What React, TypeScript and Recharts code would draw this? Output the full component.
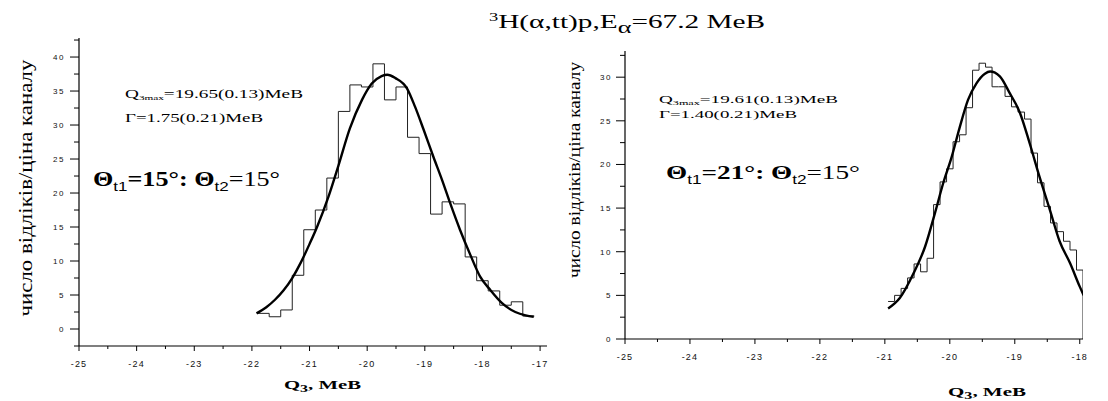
import React from 'react';
import { LineChart, Line, XAxis, YAxis } from 'recharts';

// ---------- Left panel (Θt1=15°, Θt2=15°) ----------
const leftBinStarts = [-21.9, -21.7, -21.5, -21.3, -21.1, -20.9, -20.7, -20.5, -20.3, -20.1, -19.9, -19.7, -19.5, -19.3, -19.1, -18.9, -18.7, -18.5, -18.3, -18.1, -17.9, -17.7, -17.5, -17.3];
const leftCounts = [2.3, 1.8, 2.8, 7.9, 14.6, 17.5, 22.2, 32.0, 35.9, 35.6, 39.0, 33.7, 35.6, 28.2, 25.8, 16.9, 18.7, 18.4, 10.6, 7.1, 5.6, 3.5, 4.0, 1.9];
const leftHistEnd = -17.1;
const leftFitQ = [-21.92, -21.75, -21.6, -21.45, -21.3, -21.15, -21.0, -20.87, -20.67, -20.5, -20.3, -20.09, -19.92, -19.75, -19.65, -19.51, -19.31, -19.17, -19.02, -18.85, -18.7, -18.56, -18.39, -18.21, -18.04, -17.86, -17.66, -17.43, -17.25, -17.11];
const leftFitY = [2.3, 3.2, 4.3, 5.7, 7.5, 9.8, 12.5, 15.0, 19.5, 24.0, 29.5, 33.7, 36.1, 37.2, 37.4, 36.9, 35.4, 32.7, 29.3, 25.3, 21.9, 18.5, 14.6, 10.9, 7.7, 5.7, 3.8, 2.5, 2.0, 1.8];
const leftXTicks = [-25, -24.5, -24, -23.5, -23, -22.5, -22, -21.5, -21, -20.5, -20, -19.5, -19, -18.5, -18, -17.5, -17];
const leftYTicks = [-2.5, 0, 2.5, 5, 7.5, 10, 12.5, 15, 17.5, 20, 22.5, 25, 27.5, 30, 32.5, 35, 37.5, 40, 42.5];

// ---------- Right panel (Θt1=21°, Θt2=15°) ----------
const rightBinStarts = [-20.95, -20.85, -20.75, -20.65, -20.55, -20.45, -20.35, -20.25, -20.15, -20.05, -19.95, -19.85, -19.75, -19.65, -19.55, -19.45, -19.35, -19.25, -19.15, -19.05, -18.95, -18.85, -18.75, -18.65, -18.55, -18.45, -18.35, -18.25, -18.15, -18.05];
const rightCounts = [4.3, 5.0, 5.8, 7.0, 8.6, 7.7, 9.25, 15.4, 18.0, 19.5, 22.6, 23.4, 26.5, 30.8, 31.6, 31.15, 28.9, 28.9, 27.8, 26.6, 26.0, 25.2, 21.3, 17.9, 15.2, 13.3, 12.3, 11.2, 10.2, 7.9];
const rightHistEnd = -17.95;
const rightFitQ = [-20.95, -20.77, -20.56, -20.38, -20.23, -20.1, -19.97, -19.85, -19.72, -19.59, -19.46, -19.38, -19.23, -19.08, -18.92, -18.77, -18.62, -18.46, -18.31, -18.15, -18.0, -17.94];
const rightFitY = [3.5, 4.7, 7.5, 10.6, 14.4, 17.9, 20.9, 24.2, 27.4, 29.3, 30.4, 30.65, 30.1, 28.2, 25.9, 22.4, 18.6, 14.8, 11.2, 8.7, 6.0, 5.0];
const rightXTicks = [-25, -24.5, -24, -23.5, -23, -22.5, -22, -21.5, -21, -20.5, -20, -19.5, -19, -18.5, -18];
const rightYTicks = [0, 2.5, 5, 7.5, 10, 12.5, 15, 17.5, 20, 22.5, 25, 27.5, 30, 32.5];

const leftHist = leftBinStarts
  .map((q, i) => ({ q, n: leftCounts[i] }))
  .concat([{ q: leftHistEnd, n: leftCounts[leftCounts.length - 1] }]);
const leftFit = leftFitQ.map((q, i) => ({ q, n: leftFitY[i] }));
const rightHist = rightBinStarts
  .map((q, i) => ({ q, n: rightCounts[i] }))
  .concat([{ q: rightHistEnd, n: 0 }]);
const rightFit = rightFitQ.map((q, i) => ({ q, n: rightFitY[i] }));

const tickFont = '"Liberation Sans", Arial, sans-serif';
const serif = '"Liberation Serif", "Times New Roman", serif';

const XTick = (props: any) => {
  const { x, y, payload, off } = props;
  const v = payload.value;
  const major = Math.abs(v - Math.round(v)) < 1e-6;
  return (
    <g>
      <line x1={x} x2={x} y1={y} y2={y + (major ? 5 : 3)} stroke="#000" strokeWidth={1} />
      {major && (
        <text x={x} y={y + off} textAnchor="middle" fontSize={9} fontFamily={tickFont} letterSpacing={1.2} fill="#111">
          {String(v)}
        </text>
      )}
    </g>
  );
};

const YTick = (props: any) => {
  const { x, y, payload, off } = props;
  const v = payload.value;
  const major = Math.abs(v / 5 - Math.round(v / 5)) < 1e-6;
  return (
    <g>
      <line x1={x - (major ? 9 : 5)} x2={x} y1={y} y2={y} stroke="#000" strokeWidth={1} />
      {major && (
        <text x={x - off} y={y + 3} textAnchor="end" fontSize={8} fontFamily={tickFont} letterSpacing={1.5} fill="#111">
          {String(v)}
        </text>
      )}
    </g>
  );
};

export default function App() {
  return (
    <div style={{ position: 'absolute', left: 0, top: 0, width: 1108, height: 401, background: '#fff', overflow: 'hidden' }}>
      <div style={{ position: 'absolute', left: 0, top: 0 }}>
        <LineChart width={560} height={401} margin={{ top: 38, right: 13, bottom: 0, left: 0 }}>
          <XAxis
            dataKey="q"
            type="number"
            domain={[-25, -16.88]}
            ticks={leftXTicks}
            interval={0}
            allowDataOverflow
            height={55}
            tickSize={0}
            tickMargin={0}
            tickLine={false}
            axisLine={{ stroke: '#000', strokeWidth: 1.2 }}
            tick={(p: any) => <XTick {...p} off={21} />}
          />
          <YAxis
            type="number"
            domain={[-2.5, 42.8]}
            ticks={leftYTicks}
            interval={0}
            allowDataOverflow
            width={79}
            tickSize={0}
            tickMargin={0}
            tickLine={false}
            axisLine={{ stroke: '#000', strokeWidth: 1.2 }}
            tick={(p: any) => <YTick {...p} off={14} />}
          />
          <Line data={leftHist} dataKey="n" type="stepAfter" stroke="#222" strokeWidth={1} dot={false} activeDot={false} isAnimationActive={false} />
          <Line data={leftFit} dataKey="n" type="monotone" stroke="#000" strokeWidth={2.4} dot={false} activeDot={false} isAnimationActive={false} />
        </LineChart>
      </div>
      <div style={{ position: 'absolute', left: 540, top: 0 }}>
        <LineChart width={568} height={401} margin={{ top: 51, right: 25, bottom: 0, left: 0 }}>
          <XAxis
            dataKey="q"
            type="number"
            domain={[-25, -17.95]}
            ticks={rightXTicks}
            interval={0}
            allowDataOverflow
            height={62}
            tickSize={0}
            tickMargin={0}
            tickLine={false}
            axisLine={{ stroke: '#000', strokeWidth: 1.2 }}
            tick={(p: any) => <XTick {...p} off={21} />}
          />
          <YAxis
            type="number"
            domain={[0, 33]}
            ticks={rightYTicks}
            interval={0}
            allowDataOverflow
            width={85}
            tickSize={0}
            tickMargin={0}
            tickLine={false}
            axisLine={{ stroke: '#000', strokeWidth: 1.2 }}
            tick={(p: any) => <YTick {...p} off={13} />}
          />
          <Line data={rightHist} dataKey="n" type="stepAfter" stroke="#222" strokeWidth={1} dot={false} activeDot={false} isAnimationActive={false} />
          <Line data={rightFit} dataKey="n" type="monotone" stroke="#000" strokeWidth={2.4} dot={false} activeDot={false} isAnimationActive={false} />
        </LineChart>
      </div>
      <svg width={1108} height={401} style={{ position: 'absolute', left: 0, top: 0, pointerEvents: 'none' }}>
        {/* Title */}
        <text x={489} y={28} fontSize={19} fontFamily={serif} fill="#000" textLength={276} lengthAdjust="spacingAndGlyphs">
          <tspan fontSize={12} dy={-7}>3</tspan>
          <tspan dy={7}>H(α,tt)p,E</tspan>
          <tspan fontSize={17} dy={5}>α</tspan>
          <tspan dy={-5}>=67.2 MeB</tspan>
        </text>

        {/* Left annotations */}
        <text x={125} y={98} fontSize={12} fontFamily={serif} fill="#000" textLength={178} lengthAdjust="spacingAndGlyphs">
          Q<tspan fontSize={7} dy={2}>3max</tspan>
          <tspan dy={-2}>=19.65(0.13)MeB</tspan>
        </text>
        <text x={125} y={122} fontSize={12} fontFamily={serif} fill="#000" textLength={138} lengthAdjust="spacingAndGlyphs">
          Γ=1.75(0.21)MeB
        </text>
        <text x={93} y={186} fontSize={20} fontFamily={serif} fill="#000" textLength={187} lengthAdjust="spacingAndGlyphs">
          <tspan fontWeight="bold">Θ</tspan>
          <tspan fontSize={13} fontFamily={tickFont} dy={5}>t1</tspan>
          <tspan dy={-5} fontWeight="bold">=15°: Θ</tspan>
          <tspan fontSize={13} fontFamily={tickFont} dy={5}>t2</tspan>
          <tspan dy={-5}>=15°</tspan>
        </text>

        {/* Right annotations */}
        <text x={659} y={103} fontSize={11} fontFamily={serif} fill="#000" textLength={179} lengthAdjust="spacingAndGlyphs">
          Q<tspan fontSize={7} dy={2}>3max</tspan>
          <tspan dy={-2}>=19.61(0.13)MeB</tspan>
        </text>
        <text x={659} y={118} fontSize={11} fontFamily={serif} fill="#000" textLength={138} lengthAdjust="spacingAndGlyphs">
          Γ=1.40(0.21)MeB
        </text>
        <text x={666} y={179} fontSize={19} fontFamily={serif} fill="#000" textLength={194} lengthAdjust="spacingAndGlyphs">
          <tspan fontWeight="bold">Θ</tspan>
          <tspan fontSize={12} fontFamily={tickFont} dy={5}>t1</tspan>
          <tspan dy={-5} fontWeight="bold">=21°: Θ</tspan>
          <tspan fontSize={12} fontFamily={tickFont} dy={5}>t2</tspan>
          <tspan dy={-5}>=15°</tspan>
        </text>

        {/* Y axis titles */}
        <text transform="translate(32,188) rotate(-90)" textAnchor="middle" fontSize={19} fontFamily={serif} fill="#000" textLength={257} lengthAdjust="spacingAndGlyphs">
          число відліків/ціна каналу
        </text>
        <text transform="translate(580,170) rotate(-90)" textAnchor="middle" fontSize={16} fontFamily={serif} fill="#000" textLength={216} lengthAdjust="spacingAndGlyphs">
          число відліків/ціна каналу
        </text>

        {/* X axis titles */}
        <text x={284} y={389} fontSize={13} fontWeight="bold" fontFamily={serif} fill="#000" textLength={77} lengthAdjust="spacingAndGlyphs">
          Q<tspan fontSize={10} dy={3}>3</tspan>
          <tspan dy={-3}>, MeB</tspan>
        </text>
        <text x={948} y={396} fontSize={13} fontWeight="bold" fontFamily={serif} fill="#000" textLength={78} lengthAdjust="spacingAndGlyphs">
          Q<tspan fontSize={10} dy={3}>3</tspan>
          <tspan dy={-3}>, MeB</tspan>
        </text>
      </svg>
    </div>
  );
}
